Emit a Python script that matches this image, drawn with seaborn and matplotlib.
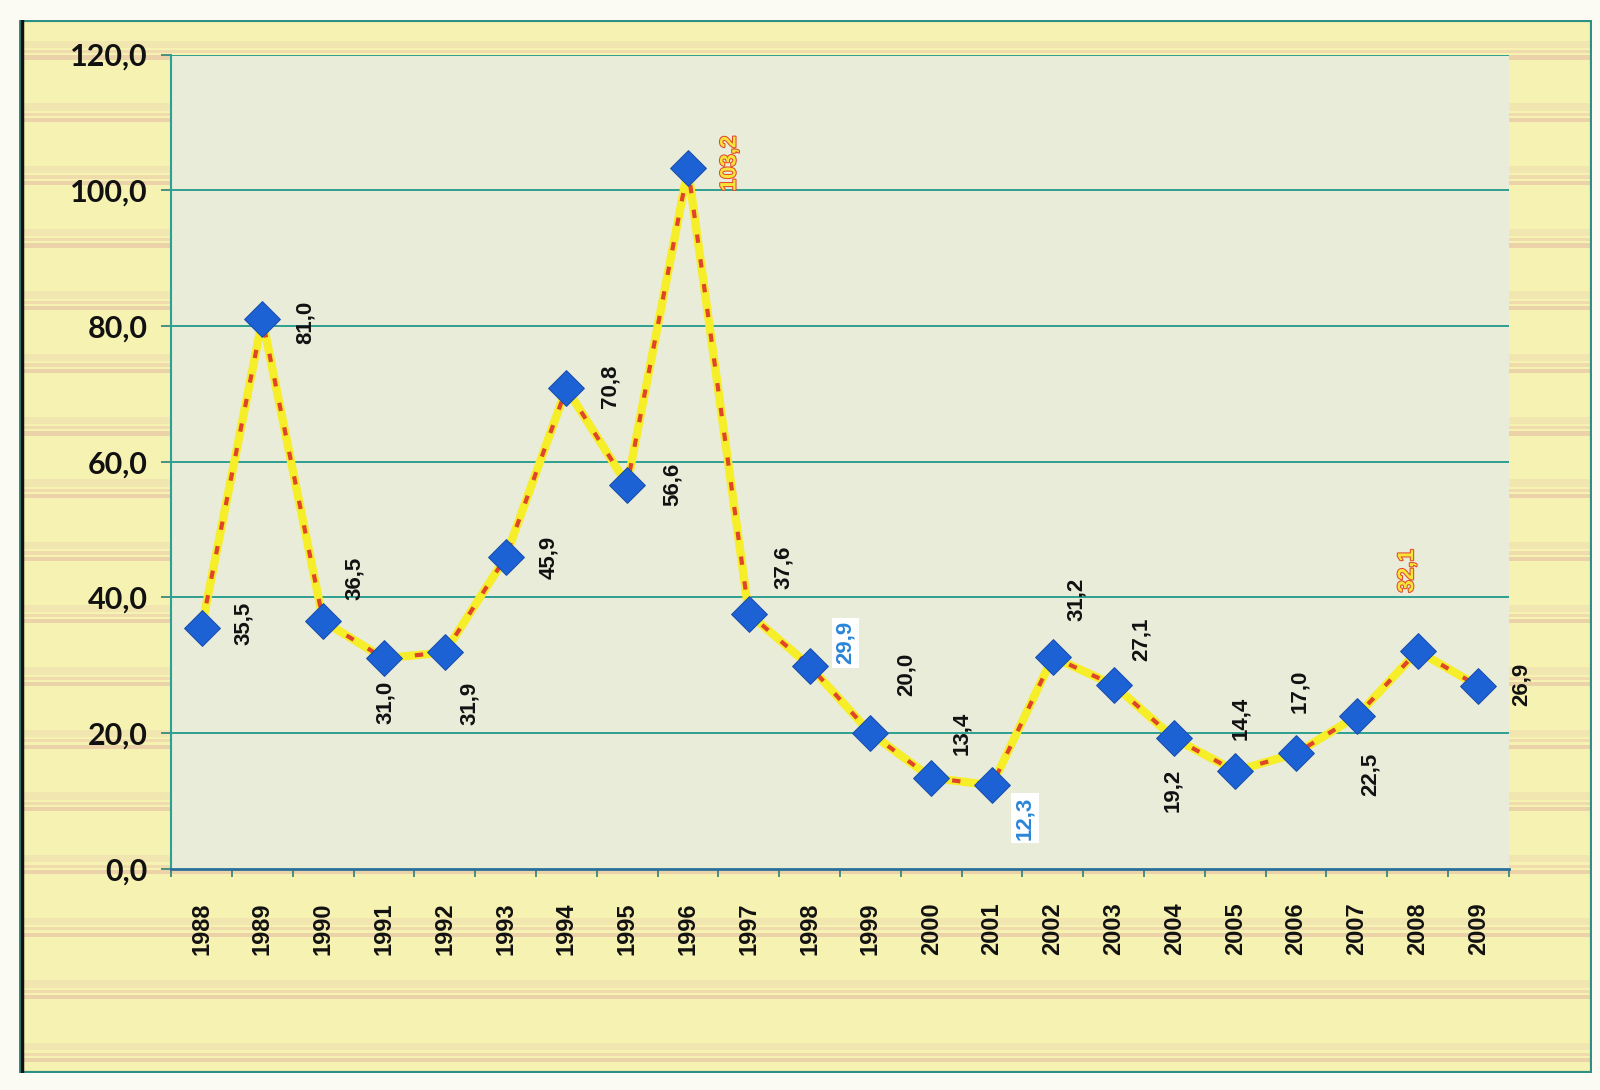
import numpy as np
import pandas as pd
import matplotlib
matplotlib.use("Agg")
import matplotlib.pyplot as plt
import matplotlib.patheffects as pe
from matplotlib.patches import Rectangle
from matplotlib.ticker import FixedLocator
import seaborn as sns

# values
years = [1988, 1989, 1990, 1991, 1992, 1993, 1994, 1995, 1996, 1997, 1998,
         1999, 2000, 2001, 2002, 2003, 2004, 2005, 2006, 2007, 2008, 2009]
values = [35.5, 81.0, 36.5, 31.0, 31.9, 45.9, 70.8, 56.6, 103.2, 37.6, 29.9,
          20.0, 13.4, 12.3, 31.2, 27.1, 19.2, 14.4, 17.0, 22.5, 32.1, 26.9]
y_ticks = [0, 20, 40, 60, 80, 100, 120]

df = pd.DataFrame({"year": [str(y) for y in years], "value": values})
df["pos"] = range(len(df))

# label offsets in pixels (dx, dy up) relative to each marker
label_offsets = [(42, 4), (43, -3), (31, 43), (1, -44), (25, -51), (43, 0),
                 (44, 2), (45, 0), (42, 5), (35, 46), (36, 23), (36, 59),
                 (30, 44), (33, -33), (24, 58), (28, 46), (-2, -52), (5, 53),
                 (4, 62), (13, -58), (-10, 80), (43, 2)]

sns.set_theme(style="white")
plt.rcParams["font.family"] = ["Liberation Sans", "DejaVu Sans"]

fig = plt.figure(figsize=(16, 10.9), dpi=100)
fig.patch.set_facecolor("#fbfbf4")

# striped yellow background of the chart frame
bg = fig.add_axes([0.012, 0.016, 0.983, 0.966])
bg.set_xlim(0, 1)
bg.set_ylim(0, 1)
bg.axis("off")
bg.add_patch(Rectangle((0, 0), 1, 1, facecolor="#f6f2b2", edgecolor="none"))
for y0 in np.arange(0.01, 1.0, 0.0595):
    bg.axhspan(y0, y0 + 0.004, color="#e4b8a0", alpha=0.55, lw=0)
    bg.axhspan(y0 + 0.006, y0 + 0.009, color="#e7c0a4", alpha=0.45, lw=0)
    bg.axhspan(y0 + 0.011, y0 + 0.018, color="#efd8ae", alpha=0.45, lw=0)
bg.add_patch(Rectangle((0, 0), 1, 1, fill=False, edgecolor="#2e8f86", lw=3))
bg.plot([0.002, 0.002], [0.0, 1.0], color="#111111", lw=2.5)

ax = fig.add_axes([0.107, 0.203, 0.836, 0.747])
ax.set_facecolor("#e8ecd9")

for t in y_ticks[1:]:
    ax.axhline(t, color="#1f9a8a", lw=1.3, zorder=1)

sns.lineplot(data=df, x="pos", y="value", ax=ax, color="#f7ee2a", lw=6,
             zorder=3, legend=False)
ax.plot(df["pos"], df["value"], color="#e0452a", lw=3,
        dashes=(2, 4), zorder=4)
sns.scatterplot(data=df, x="pos", y="value", ax=ax, marker="D", s=330,
                color="#1d62d4", edgecolor="#1a4fb0", linewidth=0.8,
                zorder=5, legend=False)

for i, (v, (dx, dy)) in enumerate(zip(values, label_offsets)):
    txt = f"{v:.1f}".replace(".", ",")
    kw = dict(color="#111111")
    if years[i] in (1998, 2001):
        kw = dict(color="#2a86d8",
                  bbox=dict(boxstyle="square,pad=0.15", fc="white", ec="none"))
    elif years[i] in (1996, 2008):
        kw = dict(color="#f7e43a",
                  path_effects=[pe.withStroke(linewidth=1.5, foreground="#e24a2c")])
    ax.annotate(txt, (i, v), xytext=(dx, dy), textcoords="offset pixels",
                rotation=90, ha="center", va="center", fontsize=16,
                fontweight="bold", zorder=6, **kw)

ax.set_xlim(-0.5, len(years) - 0.5)
ax.set_ylim(0, 120)
ax.set_yticks(y_ticks)
ax.set_yticklabels([f"{t:.1f}".replace(".", ",") for t in y_ticks],
                   fontsize=22, fontweight="bold", color="#111111",
                   family=["Lato", "DejaVu Sans"])
ax.set_xticks(df["pos"])
ax.set_xticklabels(df["year"], rotation=90, fontsize=17, fontweight="bold",
                   color="#111111")
ax.xaxis.set_minor_locator(FixedLocator(np.arange(-0.5, len(years), 1)))
ax.tick_params(axis="x", which="major", length=0, pad=24)
ax.tick_params(axis="x", which="minor", length=6, color="#2e7f7a", width=1.2,
               direction="out", bottom=True)
ax.tick_params(axis="y", length=7, color="#2e7f7a", width=1.2, direction="out",
               left=True, pad=10)
ax.set_xlabel("")
ax.set_ylabel("")

for side in ("top", "right"):
    ax.spines[side].set_visible(False)
ax.spines["left"].set_color("#2aa196")
ax.spines["left"].set_linewidth(1.5)
ax.spines["bottom"].set_color("#2a6f9a")
ax.spines["bottom"].set_linewidth(2)

fig.savefig("out.png", dpi=100, facecolor=fig.get_facecolor())
